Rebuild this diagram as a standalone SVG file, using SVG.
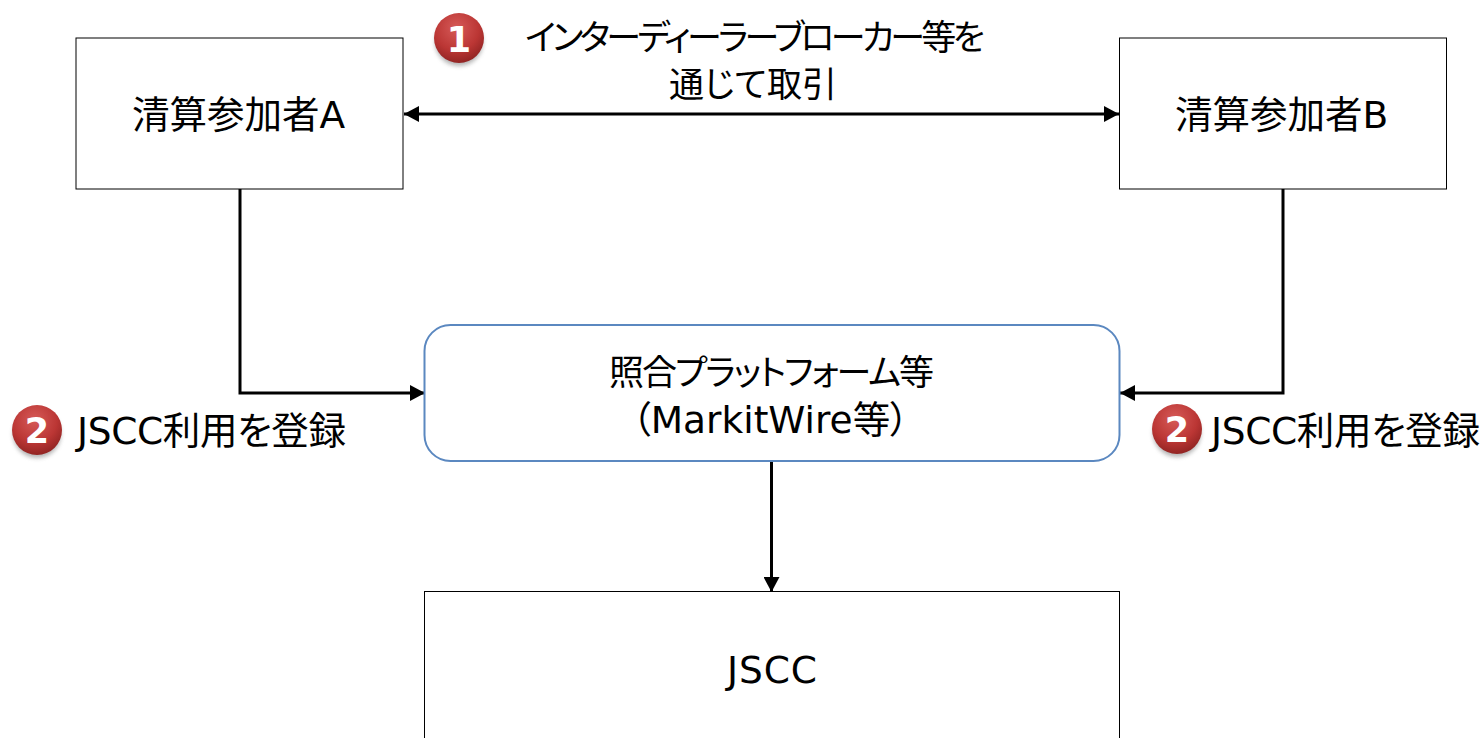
<svg xmlns="http://www.w3.org/2000/svg" width="1483" height="738" viewBox="0 0 1483 738">
<style>
text{font-family:"DejaVu Sans","Noto Sans CJK JP",sans-serif;font-size:37.500px;fill:#000;font-feature-settings:"palt"}
text.k{font-size:35px}
.box{fill:#fff;stroke:#000;stroke-width:1}
.con{fill:none;stroke:#000;stroke-width:3}
text.num{font-family:"DejaVu Sans",sans-serif;font-weight:bold;font-size:35px;fill:#fff;text-anchor:middle}
</style>
<defs>
<marker id="ah" markerUnits="userSpaceOnUse" markerWidth="16" markerHeight="16" refX="15" refY="8" orient="auto-start-reverse"><path d="M0 0L15 8L0 16Z" fill="#000"/></marker>
<radialGradient id="ball" cx="0.45" cy="0.3" r="0.75"><stop offset="0" stop-color="#d65a58"/><stop offset="0.6" stop-color="#bb3634"/><stop offset="1" stop-color="#8a2120"/></radialGradient>
<filter id="sh" x="-30%" y="-30%" width="160%" height="170%"><feGaussianBlur stdDeviation="2"/></filter>
<g id="badge"><ellipse cx="0" cy="4" rx="24" ry="24" fill="#777" opacity="0.55" filter="url(#sh)"/><circle r="25" fill="url(#ball)"/></g>
</defs>
<rect width="1483" height="738" fill="#fff"/>
<g id="connectors">
<path class="con" d="M404 114H1119" marker-start="url(#ah)" marker-end="url(#ah)"/>
<path class="con" d="M240 189V393H425" marker-end="url(#ah)"/>
<path class="con" d="M1283 189V393H1120" marker-end="url(#ah)"/>
<path class="con" d="M771.500 461V592" marker-end="url(#ah)"/>
</g>
<g id="node-a"><rect class="box" x="76" y="38" width="327" height="151"/><text x="132" y="128">清算参加者A</text></g>
<g id="node-b"><rect class="box" x="1119.500" y="38" width="327" height="151"/><text x="1175" y="128">清算参加者B</text></g>
<g id="node-platform"><rect x="424.500" y="325" width="695" height="136" rx="26" fill="#fff" stroke="#5b88c0" stroke-width="2"/><text class="k" x="609" y="385" textLength="325">照合プラットフォーム等</text><text x="632" y="433">（MarkitWire等）</text></g>
<g id="node-jscc"><rect class="box" x="424.500" y="591.500" width="695" height="160"/><text x="727" y="683" textLength="90">JSCC</text></g>
<g id="label-1"><use href="#badge" x="459" y="38"/><text class="num" x="459" y="52">1</text><text class="k" x="525" y="50" textLength="460">インターディーラーブローカー等を</text><text class="k" x="669" y="97" textLength="168">通じて取引</text></g>
<g id="label-2a"><use href="#badge" x="37" y="430"/><text class="num" x="37" y="443">2</text><text x="77" y="444" textLength="269">JSCC利用を登録</text></g>
<g id="label-2b"><use href="#badge" x="1177" y="429"/><text class="num" x="1177" y="442">2</text><text x="1211" y="444" textLength="269">JSCC利用を登録</text></g>
</svg>
